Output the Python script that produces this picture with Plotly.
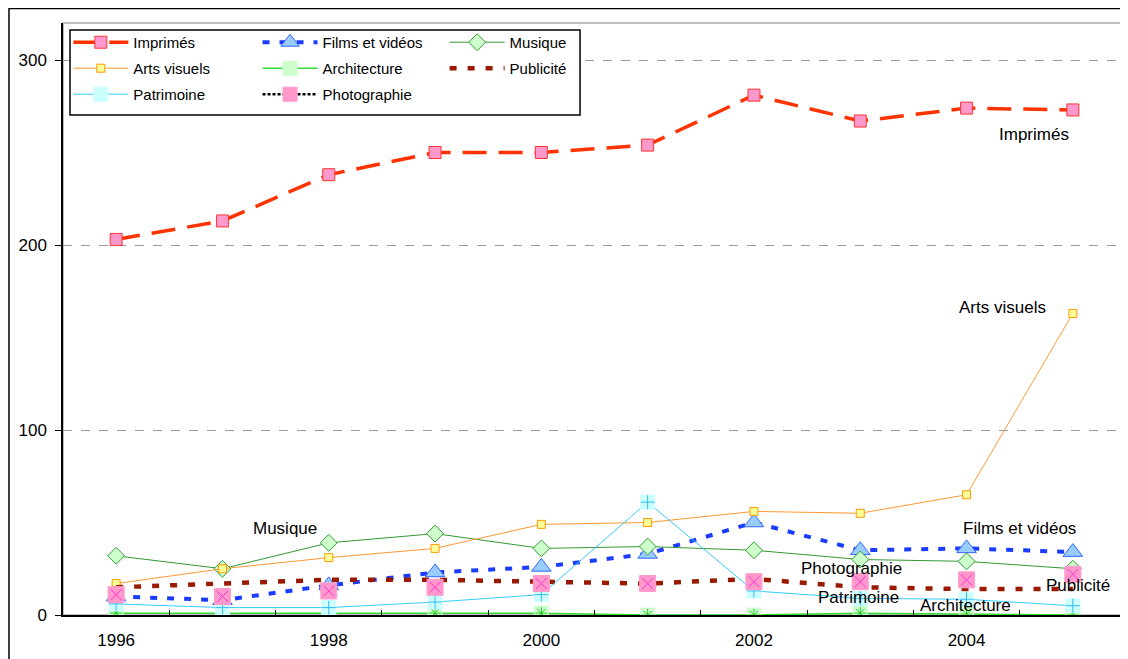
import plotly.graph_objects as go

years = [1996, 1997, 1998, 1999, 2000, 2001, 2002, 2003, 2004, 2005]
imprimes = [203, 213, 238, 250, 250, 254, 281, 267, 274, 273]
films = [10, 8, 16, 23, 26, 33, 50, 35, 36, 34]
musique = [32, 25, 39, 44, 36, 37, 35, 30, 29, 25]
arts_visuels = [17, 25, 31, 36, 49, 50, 56, 55, 65, 163]
architecture = [1, 1, 1, 1, 1, 0, 0, 1, 0.5, 0]
publicite = [15, 17, 19, 19, 18, 17, 19.5, 15, 14, 14]
patrimoine = [6, 4, 4, 7, 11, 61, 13, 9, 8.5, 5]
photographie = [11, 10, 13, 15, 17, 17, 18, 18, 19, 22]

x_labels = [1996, 1998, 2000, 2002, 2004]
y_ticks = [0, 100, 200, 300]

FONT = "Liberation Sans, Arial, sans-serif"

fig = go.Figure()

def add(name, y, color, width, dash, symbol, size, fill, mline, legend, mode="lines+markers",
        overlay=None, showlegend=True):
    fig.add_trace(go.Scatter(
        x=years, y=y, name=name, mode=mode, legend=legend, legendgroup=name, showlegend=showlegend,
        line=dict(color=color, width=width, dash=dash),
        marker=dict(symbol=symbol, size=size, color=fill, line=dict(color=mline, width=1)),
        hoverinfo="skip"))
    if overlay:
        fig.add_trace(go.Scatter(
            x=years, y=y, mode="markers", showlegend=False, legend=legend, legendgroup=name,
            marker=dict(symbol=overlay[0], size=overlay[1], color=overlay[2],
                        line=dict(color=overlay[2], width=1)),
            hoverinfo="skip"))

add("Imprimés", imprimes, "#FF3300", 3.5, "24px,12px", "square", 12, "#FF99CC", "#FF3333", "legend")
add("Films et vidéos", films, "#1A3CFF", 4, "7px,10px", "triangle-up", 17, "#99CCFF", "#3366FF", "legend2")
add("Musique", musique, "#339933", 1, "solid", "diamond", 13, "#CCFFCC", "#339933", "legend3")
add("Arts visuels", arts_visuels, "#FF9933", 1, "solid", "square", 8, "#FFFF99", "#FF9900", "legend")
add("Architecture", architecture, "#33DD33", 1.5, "solid", "square", 14, "#CCFFCC", "#CCFFCC", "legend2",
    overlay=("asterisk-open", 10, "#22CC22"))
add("Publicité", publicite, "#991A00", 4.5, "7px,11px", "square", 1, "rgba(0,0,0,0)", "rgba(0,0,0,0)", "legend3", mode="lines")
add("Patrimoine", patrimoine, "#33CCFF", 1, "solid", "square", 14, "#CCFFFF", "#CCFFFF", "legend",
    overlay=("cross-thin-open", 10, "#33BBEE"))
add("Photographie", photographie, "black", 1, "dot", "square", 16, "#FF99CC", "#FF99CC", "legend2", mode="markers",
    overlay=("x-thin-open", 11, "#FF33CC"), showlegend=False)
# legend entry for Photographie (black dotted line with pink marker, as in the original key)
fig.add_trace(go.Scatter(x=[None], y=[None], name="Photographie", mode="lines+markers", legend="legend2",
                         legendgroup="Photographie",
                         line=dict(color="black", width=2.5, dash="3px,2px"),
                         marker=dict(symbol="square", size=14, color="#FF99CC", line=dict(color="#FF99CC", width=1)),
                         hoverinfo="skip"))
# carrier for the boundary tick marks axis
fig.add_trace(go.Scatter(x=[None], y=[None], xaxis="x2", showlegend=False, hoverinfo="skip"))

labels = [
    ("Imprimés", 2004.63, 260), ("Arts visuels", 2004.34, 166), ("Musique", 1997.59, 47),
    ("Films et vidéos", 2004.5, 47), ("Photographie", 2002.92, 25), ("Publicité", 2005.05, 16),
    ("Patrimoine", 2002.98, 9.7), ("Architecture", 2003.99, 4.9),
]
for t, lx, ly in labels:
    fig.add_annotation(x=lx, y=ly, text=t, showarrow=False, font=dict(family=FONT, size=17, color="black"))

# outer frame and plot border
fig.add_shape(type="rect", xref="paper", yref="paper", x0=-0.0508, x1=1.05, y0=-0.2, y1=1.0245,
              line=dict(color="black", width=1.5), layer="below")
fig.add_shape(type="rect", xref="paper", yref="paper", x0=0, x1=1, y0=0, y1=1,
              line=dict(color="#AAAAAA", width=1.5), layer="below")
# legend box
fig.add_shape(type="rect", xref="paper", yref="paper", x0=0.0066, x1=0.4864, y0=0.8446, y1=0.988,
              line=dict(color="black", width=1.5), fillcolor="white", layer="above")

leg_common = dict(bgcolor="rgba(0,0,0,0)", borderwidth=0, font=dict(family=FONT, size=15, color="black"),
                  itemwidth=55, tracegroupgap=3.5, orientation="v", xanchor="left", yanchor="top", yref="paper")
fig.update_layout(
    legend=dict(x=0.005, y=0.995, **leg_common),
    legend2=dict(x=0.183, y=0.995, **leg_common),
    legend3=dict(x=0.359, y=0.995, **leg_common),
)

fig.update_layout(
    width=1120, height=651,
    margin=dict(l=55, r=2, t=15, b=44),
    paper_bgcolor="white", plot_bgcolor="white",
    font=dict(family=FONT, size=17, color="black"),
    showlegend=True,
    xaxis=dict(range=[1995.5, 2005.5], tickmode="array", tickvals=x_labels, ticks="",
               showline=True, linecolor="black", linewidth=1.5, showgrid=False, zeroline=False,
               ticklabelstandoff=9, tickfont=dict(size=17)),
    xaxis2=dict(range=[1995.5, 2005.5], overlaying="x", anchor="y", side="bottom",
                tickmode="array", tickvals=[y + 0.5 for y in years[:-1]], ticks="inside",
                ticklen=5, tickcolor="black", tickwidth=1, showticklabels=False,
                showline=False, showgrid=False, zeroline=False),
    yaxis=dict(range=[0, 320], tickmode="array", tickvals=y_ticks, ticks="outside", ticklen=6,
               tickcolor="black", showline=True, linecolor="black", linewidth=1.5, zeroline=False,
               showgrid=True, gridcolor="#999999", griddash="dash", gridwidth=1,
               ticklabelstandoff=5, tickfont=dict(size=17)),
)

fig.write_html("out.html")
